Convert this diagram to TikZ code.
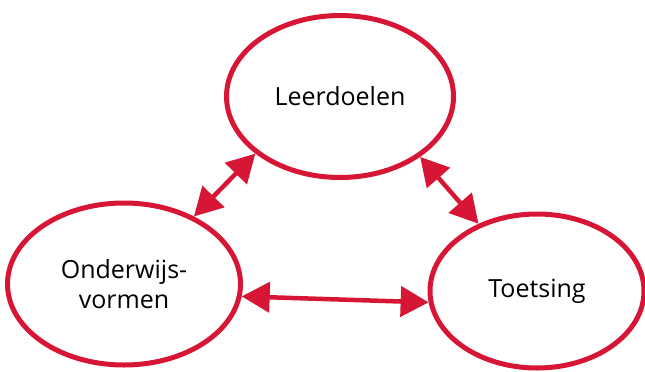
\documentclass[tikz,border=0pt]{standalone}
\usepackage{fontspec}
\setmainfont{Open Sans}
\usetikzlibrary{shapes.geometric,arrows.meta}
\definecolor{rood}{RGB}{214,22,52}

\begin{document}
\begin{tikzpicture}[x=1pt, y=-1pt,
    bubble/.style={ellipse, draw=rood, line width=5pt, fill=white, inner sep=0pt,
        font=\fontsize{25}{30}\selectfont, align=center},
    link/.style={rood, line width=4.5pt,
        {Triangle[length=28pt,width=30pt]}-{Triangle[length=28pt,width=30pt]}}]
    % Canvas
    \useasboundingbox (0,0) rectangle (645,372);
    % Ellipses
    \node[bubble, minimum width=227pt, minimum height=162pt] (doelen) at (340,96.5) {Leerdoelen};
    \node[bubble, minimum width=233pt, minimum height=162pt] (vormen) at (124,284) {Onderwijs-\\vormen};
    \node[bubble, minimum width=214pt, minimum height=154pt] (toets) at (537,291) {Toetsing};
    % Arrows
    \draw[link] (vormen.44) -- (doelen.214);
    \draw[link] (doelen.323) -- (toets.131);
    \draw[link] (vormen.354) -- (toets.186);
\end{tikzpicture}
\end{document}
